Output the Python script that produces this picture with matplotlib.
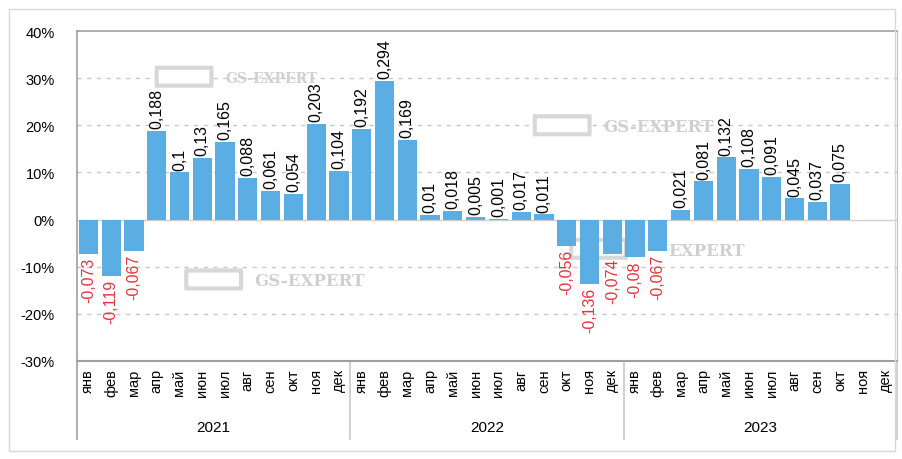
import matplotlib.pyplot as plt
from matplotlib.lines import Line2D
from matplotlib.patches import Rectangle, FancyBboxPatch

plt.rcParams["font.family"] = ["Liberation Sans", "DejaVu Sans"]

months = ["янв", "фев", "мар", "апр", "май", "июн",
          "июл", "авг", "сен", "окт", "ноя", "дек"]
years = ["2021", "2022", "2023"]

rate_2021 = [-0.073, -0.119, -0.067, 0.188, 0.1, 0.13,
             0.165, 0.088, 0.061, 0.054, 0.203, 0.104]
rate_2022 = [0.192, 0.294, 0.169, 0.01, 0.018, 0.005,
             0.001, 0.017, 0.011, -0.056, -0.136, -0.074]
rate_2023 = [-0.08, -0.067, 0.021, 0.081, 0.132, 0.108,
             0.091, 0.045, 0.037, 0.075, None, None]

rates = rate_2021 + rate_2022 + rate_2023
yticks = [-0.3, -0.2, -0.1, 0.0, 0.1, 0.2, 0.3, 0.4]

W, H = 903, 460
fig = plt.figure(figsize=(W / 100, H / 100), dpi=100)
fig.patch.set_facecolor("white")

# внешняя рамка
fig.patches.append(Rectangle((9 / W, 1 - 452 / H), 886 / W, 442 / H,
                             transform=fig.transFigure, fill=False,
                             edgecolor="#d9d9d9", linewidth=1))

ax = fig.add_axes([77 / W, 1 - 362 / H, 820 / W, 330 / H])
ax.set_xlim(-0.5, len(rates) - 0.5)
ax.set_ylim(-0.3, 0.4)

# сетка
for y in yticks:
    if y in (-0.3, 0.4, 0.0):
        continue
    ax.axhline(y, color="#c8c8c8", linestyle=(0, (3, 4)), linewidth=1, zorder=0)
ax.axhline(0, color="#d0d0d0", linewidth=1, zorder=1)

# водяные знаки
def watermark(x, y, text="GS-EXPERT", size=12, box_x=None):
    if box_x is None:
        box_x = x - 3.0
    ax.add_patch(FancyBboxPatch((box_x, y - 0.012), 2.4, 0.03,
                                boxstyle="round,pad=0.004,rounding_size=0.01",
                                transform=ax.transData, facecolor="white",
                                edgecolor="#d8d8d8", linewidth=3, zorder=0.5))
    ax.text(x, y, text, color="#d0d0d0", fontsize=size, fontweight="bold",
            va="center", ha="left", zorder=0.5, family="DejaVu Serif")

watermark(6.0, 0.30, size=10)
watermark(22.6, 0.197)
watermark(7.3, -0.13)
watermark(25.45, -0.065, text="EXPERT", box_x=21.2)

x_pos = [i for i, v in enumerate(rates) if v is not None]
vals = [v for v in rates if v is not None]
ax.bar(x_pos, vals, width=0.84, color="#5aaee3", zorder=2)

for x, v in zip(x_pos, vals):
    label = f"{v:g}".replace(".", ",")
    if v >= 0:
        ax.text(x, v + 0.006, label, rotation=90, ha="center", va="bottom",
                fontsize=11.5, color="black", zorder=3)
    else:
        ax.text(x, v - 0.006, label, rotation=90, ha="center", va="top",
                fontsize=11.5, color="#e8323c", zorder=3)

ax.set_yticks(yticks)
ax.set_yticklabels([f"{round(t * 100)}%" for t in yticks], fontsize=10.5)
ax.tick_params(axis="y", length=0, pad=16)
ax.set_xticks([])

for side in ["top", "right", "bottom"]:
    ax.spines[side].set_color("#a0a0a0")
ax.spines["right"].set_color("#c0c0c0")
ax.spines["left"].set_visible(False)
ax.spines["bottom"].set_linewidth(1.5)
ax.spines["top"].set_linewidth(1.2)

# подписи месяцев и годов
trans = ax.get_xaxis_transform()
for i in range(len(rates)):
    ax.text(i, -0.022, months[i % 12], transform=trans, rotation=90,
            ha="center", va="top", fontsize=10.5)
for k, yr in enumerate(years):
    ax.text(k * 12 + 5.5, -0.2, yr, transform=trans, ha="center",
            va="center", fontsize=11)

for xs in [-0.5, 11.5, 23.5, 35.5]:
    color = "#a0a0a0" if xs == -0.5 else "#c8c8c8"
    top = 1.0 if xs == -0.5 else 0.0
    ax.add_line(Line2D([xs, xs], [top, -0.235], transform=trans,
                       color=color, linewidth=1.2, clip_on=False))

fig.savefig("out.png", dpi=100)
